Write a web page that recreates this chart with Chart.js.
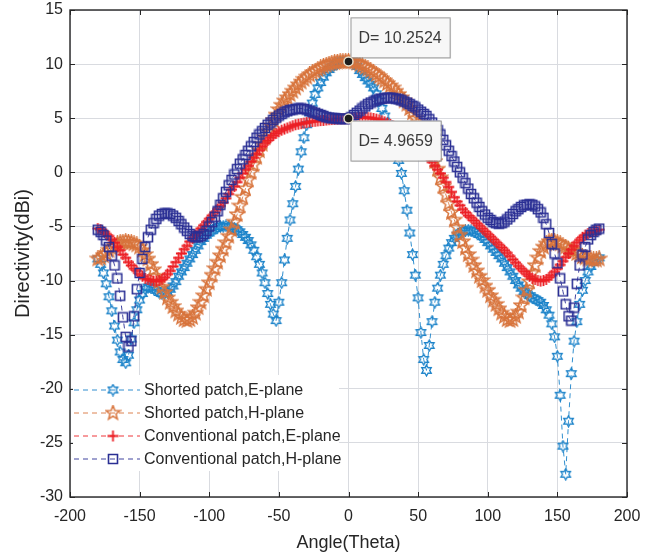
<!DOCTYPE html>
<html>
<head>
<meta charset="utf-8">
<script src="https://cdn.jsdelivr.net/npm/chart.js@4.4.0/dist/chart.umd.min.js"></script>
<style>
  html, body { margin: 0; padding: 0; background: #fff; }
  #chart { display: block; }
</style>
</head>
<body>
<canvas id="chart" width="651" height="558" style="width:651px;height:558px"></canvas>
<script>
// Sampled angles (deg)
const angles = [
  -180, -178, -176, -174, -172, -170, -168, -166, -164, -162,
  -160, -158, -156, -154, -152, -150, -148, -146, -144, -142,
  -140, -138, -136, -134, -132, -130, -128, -126, -124, -122,
  -120, -118, -116, -114, -112, -110, -108, -106, -104, -102,
  -100, -98, -96, -94, -92, -90, -88, -86, -84, -82,
  -80, -78, -76, -74, -72, -70, -68, -66, -64, -62,
  -60, -58, -56, -54, -52, -50, -48, -46, -44, -42,
  -40, -38, -36, -34, -32, -30, -28, -26, -24, -22,
  -20, -18, -16, -14, -12, -10, -8, -6, -4, -2,
  0,
  2, 4, 6, 8, 10, 12, 14, 16, 18, 20,
  22, 24, 26, 28, 30, 32, 34, 36, 38, 40,
  42, 44, 46, 48, 50, 52, 54, 56, 58, 60,
  62, 64, 66, 68, 70, 72, 74, 76, 78, 80,
  82, 84, 86, 88, 90, 92, 94, 96, 98, 100,
  102, 104, 106, 108, 110, 112, 114, 116, 118, 120,
  122, 124, 126, 128, 130, 132, 134, 136, 138, 140,
  142, 144, 146, 148, 150, 152, 154, 156, 158, 160,
  162, 164, 166, 168, 170, 172, 174, 176, 178, 180,
];

const shortedE = [
  -8.0, -8.5, -9.3, -10.3, -11.5, -12.8, -14.2, -15.5, -16.6, -17.3,
  -17.6, -16.9, -15.4, -13.9, -12.7, -11.8, -11.2, -10.8, -10.6, -10.6,
  -10.7, -10.9, -11.1, -11.2, -11.2, -11.1, -10.8, -10.5, -10.1, -9.6,
  -9.2, -8.8, -8.4, -8.0, -7.6, -7.2, -6.8, -6.4, -6.1, -5.8,
  -5.6, -5.4, -5.2, -5.1, -5.0, -5.0, -4.95, -5.0, -5.05, -5.15,
  -5.3, -5.5, -5.75, -6.0, -6.3, -6.7, -7.2, -7.8, -8.5, -9.3,
  -10.2, -11.2, -12.2, -13.1, -13.7, -12.0, -10.2, -8.1, -6.1, -4.4,
  -2.9, -1.3, 0.3, 1.9, 3.2, 4.4, 5.5, 6.4, 7.2, 7.8,
  8.3, 8.8, 9.2, 9.5, 9.75, 9.95, 10.1, 10.18, 10.22, 10.25,
  10.2524,
  10.2, 10.05, 9.8, 9.4, 9.05, 8.75, 8.45, 8.15, 7.8, 7.25,
  6.6, 5.9, 5.2, 4.5, 3.8, 3.0, 2.1, 1.1, -0.1, -1.7,
  -3.5, -5.6, -7.6, -9.5, -11.6, -14.8, -17.3, -18.3, -16.0, -13.8,
  -12.0, -10.7, -9.5, -8.5, -7.7, -7.0, -6.5, -6.1, -5.8, -5.6,
  -5.45, -5.4, -5.35, -5.4, -5.5, -5.6, -5.75, -5.95, -6.2, -6.5,
  -6.8, -7.1, -7.4, -7.7, -8.0, -8.4, -8.8, -9.2, -9.6, -10.0,
  -10.4, -10.7, -11.0, -11.2, -11.4, -11.6, -11.7, -11.85, -12.0, -12.3,
  -12.7, -13.2, -14.0, -15.2, -17.0, -20.6, -25.3, -27.9, -23.0, -18.6,
  -15.6, -13.8, -12.2, -10.9, -10.0, -9.2, -8.7, -8.3, -8.1, -7.9,
];

const shortedH = [
  -8.0, -7.9, -7.7, -7.5, -7.2, -7.0, -6.8, -6.6, -6.5, -6.45,
  -6.4, -6.45, -6.5, -6.6, -6.7, -6.9, -7.2, -7.6, -8.0, -8.5,
  -9.0, -9.6, -10.1, -10.6, -11.1, -11.6, -12.0, -12.4, -12.8, -13.1,
  -13.4, -13.6, -13.7, -13.6, -13.4, -13.0, -12.5, -12.0, -11.4, -10.8,
  -10.2, -9.5, -8.9, -8.3, -7.7, -7.1, -6.5, -5.9, -5.3, -4.6,
  -3.9, -3.1, -2.3, -1.5, -0.7, 0.0, 0.7, 1.4, 2.0, 2.6,
  3.2, 3.8, 4.3, 4.8, 5.3, 5.8, 6.2, 6.6, 6.9, 7.2,
  7.5, 7.8, 8.1, 8.35, 8.6, 8.8, 9.0, 9.2, 9.35, 9.5,
  9.65, 9.8, 9.9, 10.0, 10.08, 10.14, 10.19, 10.22, 10.24, 10.25,
  10.2524,
  10.24, 10.2, 10.1, 10.0, 9.85, 9.7, 9.55, 9.4, 9.25, 9.05,
  8.85, 8.65, 8.45, 8.2, 8.0, 7.8, 7.5, 7.2, 6.9, 6.6,
  6.3, 5.9, 5.5, 5.0, 4.6, 4.1, 3.6, 3.0, 2.4, 1.7,
  1.0, 0.3, -0.5, -1.3, -2.1, -2.9, -3.7, -4.4, -5.1, -5.8,
  -6.4, -7.0, -7.6, -8.1, -8.6, -9.1, -9.6, -10.0, -10.5, -10.9,
  -11.4, -11.8, -12.2, -12.6, -13.0, -13.3, -13.6, -13.7, -13.6, -13.3,
  -12.9, -12.3, -11.6, -10.9, -10.1, -9.3, -8.6, -7.9, -7.3, -6.9,
  -6.6, -6.4, -6.35, -6.4, -6.5, -6.6, -6.8, -6.9, -7.1, -7.2,
  -7.3, -7.5, -7.6, -7.8, -7.9, -8.0, -8.0, -8.1, -8.1, -8.0,
];

const conventionalE = [
  -5.2, -5.3, -5.5, -5.7, -5.9, -6.2, -6.5, -6.9, -7.2, -7.6,
  -7.9, -8.3, -8.6, -8.9, -9.1, -9.4, -9.6, -9.8, -9.9, -10.0,
  -10.05, -10.05, -10.0, -9.9, -9.7, -9.4, -9.1, -8.7, -8.3, -7.9,
  -7.5, -7.1, -6.8, -6.4, -6.1, -5.8, -5.5, -5.2, -4.9, -4.6,
  -4.3, -4.0, -3.7, -3.4, -3.1, -2.8, -2.4, -2.0, -1.6, -1.3,
  -0.9, -0.5, -0.1, 0.3, 0.6, 1.0, 1.35, 1.7, 2.05, 2.4,
  2.7, 2.95, 3.2, 3.4, 3.6, 3.75, 3.9, 4.0, 4.1, 4.2,
  4.3, 4.4, 4.45, 4.5, 4.55, 4.6, 4.65, 4.7, 4.72, 4.75,
  4.78, 4.8, 4.83, 4.86, 4.88, 4.9, 4.92, 4.94, 4.95, 4.96,
  4.9659,
  5.0, 5.02, 5.05, 5.07, 5.08, 5.08, 5.06, 5.03, 4.98, 4.92,
  4.85, 4.76, 4.66, 4.55, 4.43, 4.3, 4.15, 4.0, 3.83, 3.65,
  3.45, 3.25, 3.0, 2.75, 2.5, 2.2, 1.9, 1.6, 1.3, 0.95,
  0.6, 0.25, -0.1, -0.5, -0.9, -1.35, -1.8, -2.3, -2.7, -3.05,
  -3.4, -3.7, -4.0, -4.2, -4.45, -4.7, -4.95, -5.2, -5.45, -5.7,
  -5.95, -6.2, -6.45, -6.7, -6.95, -7.2, -7.45, -7.75, -8.05, -8.35,
  -8.65, -8.9, -9.15, -9.4, -9.6, -9.8, -9.9, -10.0, -10.05, -10.0,
  -9.9, -9.7, -9.5, -9.2, -8.9, -8.55, -8.2, -7.85, -7.5, -7.15,
  -6.8, -6.5, -6.25, -6.0, -5.8, -5.65, -5.55, -5.45, -5.38, -5.3,
];

const conventionalH = [
  -5.3, -5.5, -5.8, -6.3, -6.9, -7.7, -8.6, -9.8, -11.4, -13.4,
  -15.2, -16.1, -15.6, -13.3, -10.8, -9.3, -8.0, -6.9, -6.0, -5.3,
  -4.7, -4.3, -4.0, -3.85, -3.8, -3.8, -3.85, -4.0, -4.2, -4.5,
  -4.8, -5.1, -5.4, -5.7, -5.9, -6.0, -6.0, -5.9, -5.7, -5.4,
  -5.0, -4.6, -4.1, -3.6, -3.0, -2.4, -1.8, -1.2, -0.7, -0.2,
  0.3, 0.8, 1.2, 1.6, 2.0, 2.4, 2.8, 3.2, 3.5, 3.8,
  4.1, 4.4, 4.6, 4.85, 5.05, 5.25, 5.4, 5.55, 5.65, 5.75,
  5.8, 5.85, 5.9, 5.9, 5.85, 5.8, 5.7, 5.6, 5.5, 5.4,
  5.3, 5.2, 5.1, 5.05, 5.0, 5.0, 4.97, 4.95, 4.95, 4.96,
  4.9659,
  5.1, 5.3, 5.5, 5.7, 5.9, 6.1, 6.3, 6.45, 6.55, 6.65,
  6.75, 6.8, 6.85, 6.9, 6.9, 6.85, 6.8, 6.75, 6.65, 6.55,
  6.45, 6.3, 6.15, 6.0, 5.8, 5.6, 5.4, 5.2, 4.9, 4.6,
  4.3, 3.9, 3.5, 3.0, 2.5, 2.0, 1.5, 1.0, 0.5, 0.0,
  -0.5, -1.0, -1.5, -2.0, -2.4, -2.8, -3.2, -3.6, -3.9, -4.2,
  -4.4, -4.6, -4.7, -4.75, -4.7, -4.55, -4.35, -4.1, -3.85, -3.6,
  -3.4, -3.2, -3.05, -3.0, -2.95, -3.0, -3.15, -3.4, -3.7, -4.2,
  -4.8, -5.6, -6.6, -7.5, -8.4, -9.8, -11.0, -12.2, -13.3, -13.7,
  -12.5, -10.3, -8.6, -7.6, -6.9, -6.2, -5.8, -5.5, -5.3, -5.2,
];

const seriesLabels = [
  'Shorted patch,E-plane',
  'Shorted patch,H-plane',
  'Conventional patch,E-plane',
  'Conventional patch,H-plane',
];

// Data tips at broadside
const tipAngle = 0;
const tipValues = [10.2524, 4.9659];

const FONT = "'Liberation Sans', Arial, Helvetica, sans-serif";
const TEXT = '#262626';
const GRID = '#d9dbe0';

Chart.defaults.font.family = FONT;
Chart.defaults.color = TEXT;

// Build an outlined marker image so Chart.js can stamp it on each point.
function markerCanvas(kind, color, size, lineWidth) {
  const c = document.createElement('canvas');
  c.width = size;
  c.height = size;
  const g = c.getContext('2d');
  const m = size / 2;
  g.strokeStyle = color;
  g.lineWidth = lineWidth;
  g.beginPath();

  if (kind === 'hexagram' || kind === 'pentagram') {
    const n = kind === 'hexagram' ? 6 : 5;
    const outer = m - 1;
    const inner = kind === 'hexagram' ? outer / Math.sqrt(3) : outer * 0.42;
    for (let i = 0; i < n * 2; i++) {
      const r = i % 2 ? inner : outer;
      const a = -Math.PI / 2 + (i * Math.PI) / n;
      const px = m + r * Math.cos(a);
      const py = m + r * Math.sin(a);
      if (i) g.lineTo(px, py);
      else g.moveTo(px, py);
    }
    g.closePath();
  } else if (kind === 'plus') {
    g.moveTo(m, 1);
    g.lineTo(m, size - 1);
    g.moveTo(1, m);
    g.lineTo(size - 1, m);
  } else {
    g.rect(1.5, 1.5, size - 3, size - 3);
  }

  g.stroke();
  return c;
}

const styles = [
  { color: '#1a82c9', marker: markerCanvas('hexagram', '#1a82c9', 13, 1.3) },
  { color: '#d8743c', marker: markerCanvas('pentagram', '#d8743c', 17, 1.5) },
  { color: '#ec1f25', marker: markerCanvas('plus', '#ec1f25', 13, 1.8) },
  { color: '#2a2f94', marker: markerCanvas('square', '#2a2f94', 12, 1.6) },
];

const seriesValues = [shortedE, shortedH, conventionalE, conventionalH];

const datasets = seriesValues.map((values, i) => ({
  label: seriesLabels[i],
  data: angles.map((a, j) => ({ x: a, y: values[j] })),
  showLine: true,
  borderColor: styles[i].color,
  borderWidth: 0.9,
  borderDash: [5, 4],
  pointStyle: styles[i].marker,
  pointRadius: 5,
  tension: 0,
  order: seriesValues.length - i,
}));

// Box around the axes with MATLAB-style inward ticks.
const framePlugin = {
  id: 'frame',
  afterDatasetsDraw(chart) {
    const { ctx, chartArea: a, scales } = chart;
    ctx.save();
    ctx.strokeStyle = TEXT;
    ctx.lineWidth = 1.4;
    ctx.strokeRect(a.left, a.top, a.right - a.left, a.bottom - a.top);
    ctx.lineWidth = 1;
    ctx.beginPath();
    scales.x.ticks.forEach((t) => {
      const px = Math.round(scales.x.getPixelForValue(t.value)) + 0.5;
      ctx.moveTo(px, a.bottom); ctx.lineTo(px, a.bottom - 5);
      ctx.moveTo(px, a.top); ctx.lineTo(px, a.top + 5);
    });
    scales.y.ticks.forEach((t) => {
      const py = Math.round(scales.y.getPixelForValue(t.value)) + 0.5;
      ctx.moveTo(a.left, py); ctx.lineTo(a.left + 5, py);
      ctx.moveTo(a.right, py); ctx.lineTo(a.right - 5, py);
    });
    ctx.stroke();
    ctx.restore();
  },
};

// Legend in the lower-left corner, line sample with marker in the middle.
const legendPlugin = {
  id: 'matlabLegend',
  afterDraw(chart) {
    const { ctx, chartArea: a } = chart;
    const left = a.left + 3;
    const top = a.bottom - 122;
    ctx.save();
    ctx.fillStyle = '#fff';
    ctx.fillRect(left, top, 266, 96);
    ctx.font = `16px ${FONT}`;
    ctx.textBaseline = 'middle';
    seriesLabels.forEach((label, i) => {
      const y = top + 15 + i * 23;
      ctx.strokeStyle = styles[i].color;
      ctx.lineWidth = 0.9;
      ctx.setLineDash([5, 4]);
      ctx.beginPath();
      ctx.moveTo(left + 1, y);
      ctx.lineTo(left + 67, y);
      ctx.stroke();
      ctx.setLineDash([]);
      const mk = styles[i].marker;
      ctx.drawImage(mk, left + 40 - mk.width / 2, y - mk.height / 2);
      ctx.fillStyle = TEXT;
      ctx.fillText(label, left + 71, y + 1);
    });
    ctx.restore();
  },
};

// Data tips: dot on the curve and a small label box next to it.
const tipPlugin = {
  id: 'dataTips',
  afterDraw(chart) {
    const { ctx, scales } = chart;
    const px = scales.x.getPixelForValue(tipAngle);
    ctx.save();
    ctx.font = `16px ${FONT}`;
    ctx.textBaseline = 'middle';
    tipValues.forEach((v, i) => {
      const py = scales.y.getPixelForValue(v);
      const text = `D= ${v}`;
      const w = ctx.measureText(text).width + 16;
      const h = 40;
      const bx = px + 2;
      const by = i === 0 ? py - h - 4 : py + 2;
      ctx.fillStyle = 'rgba(0,0,0,0.08)';
      ctx.fillRect(bx + 1.5, by + 1.5, w, h);
      ctx.fillStyle = '#f7f7f7';
      ctx.strokeStyle = '#9a9a9a';
      ctx.lineWidth = 1;
      ctx.fillRect(bx, by, w, h);
      ctx.strokeRect(bx + 0.5, by + 0.5, w, h);
      ctx.fillStyle = '#3a3a3a';
      ctx.fillText(text, bx + 8, by + h / 2 + 1);

      ctx.beginPath();
      ctx.arc(px, py, 4.5, 0, Math.PI * 2);
      ctx.fillStyle = '#1c1c1c';
      ctx.fill();
      ctx.strokeStyle = '#e6dfcc';
      ctx.lineWidth = 1.5;
      ctx.stroke();
    });
    ctx.restore();
  },
};

new Chart(document.getElementById('chart'), {
  type: 'scatter',
  data: { datasets },
  plugins: [framePlugin, legendPlugin, tipPlugin],
  options: {
    responsive: false,
    animation: false,
    layout: { padding: { top: 10, right: 24, left: 0, bottom: 0 } },
    plugins: {
      legend: { display: false },
      tooltip: { enabled: false },
    },
    scales: {
      x: {
        type: 'linear',
        min: -200,
        max: 200,
        ticks: { stepSize: 50, padding: 10, color: TEXT, font: { size: 16 } },
        grid: { color: GRID, drawTicks: false },
        border: { display: false },
        title: {
          display: true,
          text: 'Angle(Theta)',
          color: TEXT,
          font: { size: 18 },
          padding: { top: 0, bottom: 4 },
        },
        afterFit: (scale) => {
          scale.height = 61;
          scale.paddingLeft = 0;
          scale.paddingRight = 0;
        },
      },
      y: {
        type: 'linear',
        min: -30,
        max: 15,
        ticks: { stepSize: 5, padding: 7, color: TEXT, font: { size: 16 } },
        grid: { color: GRID, drawTicks: false },
        border: { display: false },
        title: {
          display: true,
          text: 'Directivity(dBi)',
          color: TEXT,
          font: { size: 20 },
          padding: { top: 11, bottom: 0 },
        },
        afterFit: (scale) => {
          scale.width = 70;
          scale.paddingTop = 0;
          scale.paddingBottom = 0;
        },
      },
    },
  },
});
</script>
</body>
</html>
